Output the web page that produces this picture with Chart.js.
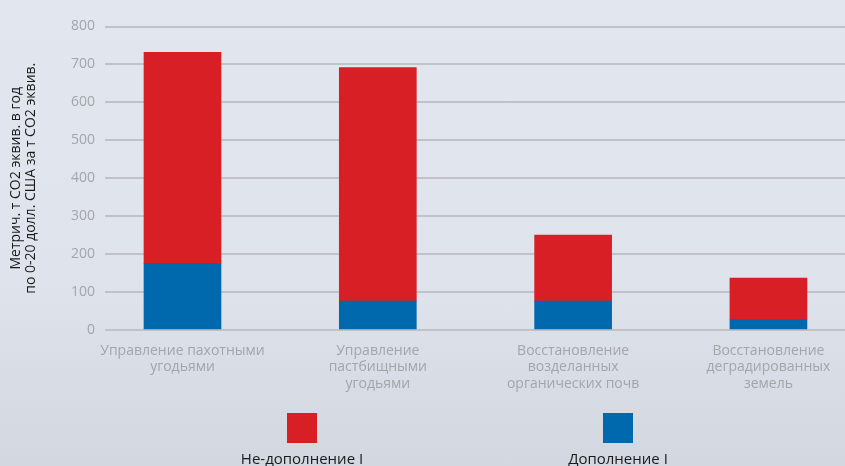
<!DOCTYPE html>
<html>
<head>
<meta charset="utf-8">
<script src="https://cdn.jsdelivr.net/npm/chart.js@4"></script>
<style>
  html, body { margin:0; padding:0; }
  body { width:845px; height:466px; overflow:hidden; position:relative;
         background: linear-gradient(to bottom, #e2e6ee 0%, #dfe3eb 60%, #d2d7e0 100%); }
  #wrap { position:absolute; left:0; top:0; width:845px; height:466px; }
  .leg { position:absolute; top:413px; width:200px; text-align:center;
         font-family:"Open Sans", sans-serif; font-size:15px; color:#1a1a1a; }
  .leg .box { width:30px; height:30px; margin:0 auto 5px auto; }
</style>
</head>
<body>
<div id="wrap"><canvas id="c" width="845" height="466"></canvas></div>
<div id="legend"></div>
<script>
const categories = [
  ["Управление пахотными", "угодьями"],
  ["Управление", "пастбищными", "угодьями"],
  ["Восстановление", "возделанных", "органических почв"],
  ["Восстановление", "деградированных", "земель"]
];
const annexI = [176, 76, 76, 27];          // Дополнение I
const nonAnnexI = [556, 616, 174, 110];     // Не-дополнение I
const yTicks = [0, 100, 200, 300, 400, 500, 600, 700, 800];
const seriesNames = ["Дополнение I", "Не-дополнение I"];
const yTitle = ["Метрич. т CO2 эквив. в год", "по 0-20 долл. США за т CO2 эквив."];

const colors = ["#0068ad", "#d71f25"];

const chart = new Chart(document.getElementById('c'), {
  type: 'bar',
  data: {
    datasets: [
      { label: seriesNames[0], data: annexI.map((v, i) => ({x: i, y: v})), backgroundColor: colors[0], barThickness: 77, borderWidth: 0 },
      { label: seriesNames[1], data: nonAnnexI.map((v, i) => ({x: i, y: v})), backgroundColor: colors[1], barThickness: 77, borderWidth: 0 }
    ]
  },
  options: {
    responsive: false,
    animation: false,
    layout: { padding: { top: 0, right: 0, bottom: 0, left: 0 } },
    plugins: { legend: { display: false }, tooltip: { enabled: false } },
    scales: {
      x: {
        type: 'linear',
        stacked: true,
        offset: false,
        bounds: 'data',
        min: -0.3968,
        max: 3.392,
        afterBuildTicks: (axis) => { axis.ticks = categories.map((_, i) => ({ value: i })); },
        afterFit: (axis) => { axis.height = 136; },
        grid: { display: false, drawTicks: false, offset: false },
        border: { display: false },
        ticks: {
          autoSkip: false,
          maxRotation: 0,
          padding: 13,
          color: '#a3a5a9',
          font: { family: 'Open Sans', size: 14, lineHeight: 1.16 },
          callback: (v) => categories[v] || ''
        }
      },
      y: {
        stacked: true,
        min: 0,
        max: 800,
        afterBuildTicks: (axis) => { axis.ticks = yTicks.map(v => ({ value: v })); },
        afterFit: (axis) => { axis.width = 105; },
        grid: { color: '#c1c2c7', lineWidth: 2, drawTicks: false },
        border: { display: false },
        ticks: {
          padding: 10,
          color: '#a3a5a9',
          font: { family: 'Open Sans', size: 14 }
        },
        title: {
          display: true,
          text: yTitle,
          color: '#1a1a1a',
          font: { family: 'Open Sans', size: 14, lineHeight: 1.07 },
          padding: { top: 9, bottom: 0 }
        }
      }
    }
  },
  plugins: [{
    id: 'topPad',
    beforeLayout(c) { c.options.layout.padding.top = 26.5; }
  }]
});

// HTML legend built from datasets (red first, then blue)
const legendEl = document.getElementById('legend');
const legendCenters = [302, 618];
chart.data.datasets.slice().reverse().forEach((ds, i) => {
  const d = document.createElement('div');
  d.className = 'leg';
  d.style.left = (legendCenters[i] - 100) + 'px';
  d.innerHTML = '<div class="box" style="background:' + ds.backgroundColor + '"></div>' + ds.label;
  legendEl.appendChild(d);
});
</script>
</body>
</html>
